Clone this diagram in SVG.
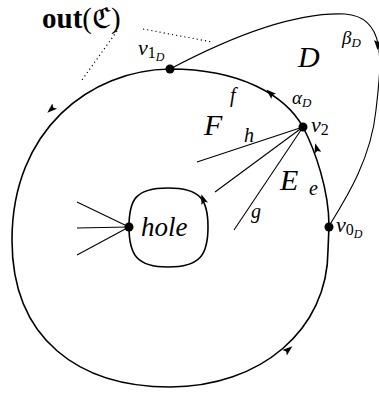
<svg xmlns="http://www.w3.org/2000/svg" width="379" height="394" viewBox="0 0 379 394">
<style>
.ln{fill:none;stroke:#000;stroke-width:1.6}
.th{fill:none;stroke:#000;stroke-width:1.1}
.dot{fill:#000}
.it{font-family:"Liberation Serif","DejaVu Serif",serif;font-style:italic;fill:#000}
.rm{font-family:"Liberation Serif","DejaVu Serif",serif;fill:#000}
.dt{fill:none;stroke:#000;stroke-width:1.1;stroke-dasharray:1.2 3}
.ar{fill:none;stroke:none}
</style>
<defs>
<marker id="ah" viewBox="0 0 10 10" refX="5" refY="5" markerWidth="10" markerHeight="10" markerUnits="userSpaceOnUse" orient="auto">
<path d="M0,1.5 L10,5 L0,8.5 L2,5 Z" fill="#000"/>
</marker>
</defs>
<g id="connectors">
<path id="outer" class="ln" d="M170,69 C90,70 12,130 12,240 C12,340 80,387 170,387 C260,387 328,330 328,250 L329,226 C329,190 315,150 303,127 C285,95 240,69 170,69 Z"/>
<path id="loopD" class="th" d="M170,69 C240,32 300,12 345,14 C388,17 381,65 376,110 C371,160 345,200 329,226"/>
<path id="hole-loop" class="ln" d="M129,227 C129,200 135,188 168,188 C201,188 208,200 208,227 C208,255 200,267 168,267 C137,267 129,255 129,227 Z"/>
<line class="th" x1="303" y1="127" x2="197" y2="162"/>
<line class="th" x1="303" y1="127" x2="215" y2="192"/>
<line class="th" x1="303" y1="127" x2="234" y2="230"/>
<line class="th" x1="129" y1="227" x2="77" y2="202"/>
<line class="th" x1="129" y1="227" x2="77" y2="228"/>
<line class="th" x1="129" y1="227" x2="77" y2="255"/>
<line class="dt" x1="117" y1="31" x2="82" y2="80"/>
<line class="dt" x1="143" y1="29" x2="212" y2="42"/>
<path class="ar" d="M56.5,104.5 L51,109.5" marker-end="url(#ah)"/>
<path class="ar" d="M283,354 L288.5,349.5" marker-end="url(#ah)"/>
<path class="ar" d="M318.5,155 L316.5,148" marker-end="url(#ah)"/>
<path class="ar" d="M276,98.5 L270,93" marker-end="url(#ah)"/>
<path class="ar" d="M205.5,206 L203,199" marker-end="url(#ah)"/>
<path class="ar" d="M377.5,38 L377.5,45" marker-end="url(#ah)"/>
</g>
<g id="v1D"><circle class="dot" cx="170" cy="69" r="4.5"/><text class="it" x="138" y="55" font-size="22">v<tspan font-style="normal" font-size="16" dy="3">1</tspan><tspan font-size="12" dy="3">D</tspan></text></g>
<g id="v2"><circle class="dot" cx="303" cy="127" r="4.5"/><text class="it" x="311" y="132" font-size="22">v<tspan font-style="normal" font-size="16" dy="3">2</tspan></text></g>
<g id="v0D"><circle class="dot" cx="329" cy="227" r="4.5"/><text class="it" x="336" y="232" font-size="22">v<tspan font-style="normal" font-size="16" dy="3">0</tspan><tspan font-size="12" dy="3">D</tspan></text></g>
<g id="hole"><circle class="dot" cx="129" cy="227" r="4.5"/><text class="it" x="141" y="236" font-size="27">hole</text></g>
<g id="labels">
<text class="rm" x="42" y="28" font-size="29" font-weight="bold">out<tspan font-weight="normal">(</tspan><tspan font-family="DejaVu Serif,serif" font-weight="normal">ℭ</tspan><tspan font-weight="normal">)</tspan></text>
<text class="it" x="298" y="67" font-size="30">D</text>
<text class="it" x="342" y="44" font-size="19">β<tspan font-size="13" dy="3">D</tspan></text>
<text class="it" x="292" y="104" font-size="19">α<tspan font-size="13" dy="3">D</tspan></text>
<text class="it" x="230" y="102" font-size="20">f</text>
<text class="it" x="204" y="135" font-size="30">F</text>
<text class="it" x="244" y="142" font-size="20">h</text>
<text class="it" x="280" y="190" font-size="30">E</text>
<text class="it" x="309" y="195" font-size="20">e</text>
<text class="it" x="251" y="218" font-size="20">g</text>
</g>
</svg>
